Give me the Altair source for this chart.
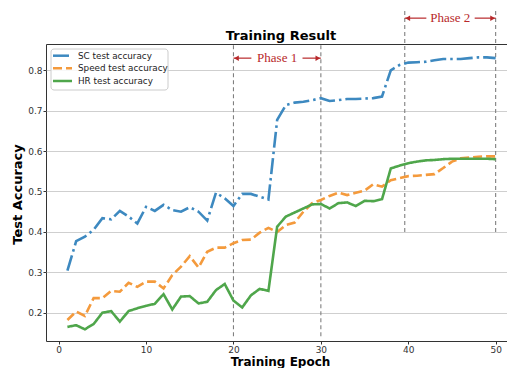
import altair as alt
import pandas as pd

epochs = list(range(1, 51))
sc_acc = [0.304, 0.377, 0.388, 0.405, 0.434, 0.431, 0.452, 0.438, 0.421, 0.462,
          0.452, 0.467, 0.454, 0.450, 0.461, 0.450, 0.428, 0.497, 0.483, 0.464,
          0.494, 0.494, 0.487, 0.480, 0.677, 0.714, 0.720, 0.722, 0.726, 0.731,
          0.724, 0.726, 0.729, 0.729, 0.730, 0.731, 0.735, 0.800, 0.813, 0.819,
          0.820, 0.821, 0.825, 0.828, 0.828, 0.828, 0.830, 0.832, 0.832, 0.830]
speed_acc = [0.182, 0.203, 0.192, 0.236, 0.236, 0.254, 0.252, 0.274, 0.264, 0.277,
             0.277, 0.260, 0.293, 0.314, 0.340, 0.312, 0.351, 0.361, 0.361, 0.372,
             0.380, 0.381, 0.398, 0.410, 0.400, 0.417, 0.423, 0.450, 0.471, 0.479,
             0.489, 0.497, 0.491, 0.497, 0.502, 0.518, 0.512, 0.528, 0.533, 0.538,
             0.539, 0.541, 0.543, 0.558, 0.574, 0.582, 0.584, 0.586, 0.587, 0.587]
hr_acc = [0.165, 0.169, 0.159, 0.172, 0.200, 0.204, 0.178, 0.204, 0.211, 0.217,
          0.222, 0.246, 0.208, 0.240, 0.241, 0.223, 0.227, 0.256, 0.271, 0.230,
          0.213, 0.243, 0.259, 0.254, 0.413, 0.438, 0.448, 0.458, 0.468, 0.469,
          0.458, 0.471, 0.473, 0.464, 0.477, 0.476, 0.481, 0.557, 0.564, 0.570,
          0.574, 0.577, 0.578, 0.580, 0.581, 0.581, 0.581, 0.581, 0.581, 0.580]

series_names = ["SC test accuracy", "Speed test accuracy", "HR test accuracy"]
series_colors = ["#3d89c0", "#f49a3c", "#4fa64b"]
series_dashes = [[16, 4, 2.5, 4], [9, 4], [1, 0]]

x_ticks = [0, 10, 20, 30, 40, 50]
y_ticks = [0.2, 0.3, 0.4, 0.5, 0.6, 0.7, 0.8]

# phase annotations
phase_labels = ["Phase 1", "Phase 2"]
phase_start = [20, 39.6]
phase_end = [30, 50]
phase_line_lo = [0.142, 0.40]
phase_line_hi = [0.865, 0.962]
phase_text_y = [0.830, 0.929]
phase_text_gap = [(22.05, 27.9), (42.07, 47.6)]

RED = "#b8282a"

rows = []
for name, vals in zip(series_names, [sc_acc, speed_acc, hr_acc]):
    for e, v in zip(epochs, vals):
        rows.append({"epoch": e, "acc": v, "series": name})
df = pd.DataFrame(rows)

xscale = alt.Scale(domain=[-1.45, 52.1], nice=False, zero=False)
yscale = alt.Scale(domain=[0.13, 0.865], nice=False, zero=False)
cscale = alt.Scale(domain=series_names, range=series_colors)
dscale = alt.Scale(domain=series_names, range=series_dashes)

lines = alt.Chart(df).mark_line(strokeWidth=2.6).encode(
    x=alt.X("epoch:Q", scale=xscale,
            axis=alt.Axis(title="Training Epoch", values=x_ticks, grid=False,
                          titleBaseline="alphabetic", titleY=24.5, titleFontSize=12)),
    y=alt.Y("acc:Q", scale=yscale,
            axis=alt.Axis(title="Test Accuracy", values=y_ticks, format=".1f",
                          grid=True, titleX=-22, titleY=150)),
    color=alt.Color("series:N", scale=cscale, legend=None),
    strokeDash=alt.StrokeDash("series:N", scale=dscale, legend=None),
    order=alt.Order("epoch:Q"),
)

vdf = pd.DataFrame({
    "x": phase_start + phase_end,
    "lo": phase_line_lo + phase_line_lo,
    "hi": phase_line_hi + phase_line_hi,
})
vlines = alt.Chart(vdf).mark_rule(color="#808080", strokeWidth=1.1, strokeDash=[4, 3]).encode(
    x=alt.X("x:Q", scale=xscale),
    y=alt.Y("lo:Q", scale=yscale),
    y2="hi:Q",
)

seg_rows = []
for i in range(2):
    seg_rows.append({"x": phase_start[i], "x2": phase_text_gap[i][0], "y": phase_text_y[i]})
    seg_rows.append({"x": phase_text_gap[i][1], "x2": phase_end[i], "y": phase_text_y[i]})
segs = alt.Chart(pd.DataFrame(seg_rows)).mark_rule(color=RED, strokeWidth=1.2).encode(
    x=alt.X("x:Q", scale=xscale), x2="x2:Q", y=alt.Y("y:Q", scale=yscale))

lh = alt.Chart(pd.DataFrame({"x": phase_start, "y": phase_text_y})).mark_point(
    shape="triangle-left", filled=True, color=RED, size=30, opacity=1, xOffset=3).encode(
    x=alt.X("x:Q", scale=xscale), y=alt.Y("y:Q", scale=yscale))
rh = alt.Chart(pd.DataFrame({"x": phase_end, "y": phase_text_y})).mark_point(
    shape="triangle-right", filled=True, color=RED, size=30, opacity=1, xOffset=-3).encode(
    x=alt.X("x:Q", scale=xscale), y=alt.Y("y:Q", scale=yscale))

tdf = pd.DataFrame({
    "x": [(a + b) / 2 for a, b in zip(phase_start, phase_end)],
    "y": phase_text_y,
    "label": phase_labels,
})
texts = alt.Chart(tdf).mark_text(font="Liberation Serif", fontSize=13, color=RED,
                                 baseline="middle", align="center").encode(
    x=alt.X("x:Q", scale=xscale), y=alt.Y("y:Q", scale=yscale), text="label:N")

# chart title as a text mark (pixel position above the plot area)
title = alt.Chart(pd.DataFrame({"t": ["Training Result"]})).mark_text(
    font="DejaVu Sans", fontSize=13, fontWeight="bold", color="#000",
    align="center", baseline="alphabetic").encode(
    x=alt.value(235), y=alt.value(-4.5), text="t:N")

# legend drawn by hand (positions in pixels inside the plot area)
leg_box = alt.Chart(pd.DataFrame({"a": [0]})).mark_rect(
    fill="white", fillOpacity=0.85, stroke="#cccccc", strokeWidth=1, cornerRadius=3).encode(
    x=alt.value(5), x2=alt.value(122), y=alt.value(5), y2=alt.value(46))
ldf = pd.DataFrame({
    "series": series_names,
    "ly": [11.7, 24.3, 37.0],
    "lx": [7] * 3, "lx2": [26] * 3, "tx": [32] * 3,
})
leg_lines = alt.Chart(ldf).mark_rule(strokeWidth=2.5).encode(
    x=alt.X("lx:Q", scale=None), x2="lx2:Q", y=alt.Y("ly:Q", scale=None),
    color=alt.Color("series:N", scale=cscale, legend=None),
    strokeDash=alt.StrokeDash("series:N", scale=dscale, legend=None))
leg_text = alt.Chart(ldf).mark_text(font="DejaVu Sans", fontSize=8.8, color="#222",
                                    align="left", baseline="middle").encode(
    x=alt.X("tx:Q", scale=None), y=alt.Y("ly:Q", scale=None), text="series:N")

chart = alt.layer(vlines, lines, segs, lh, rh, texts, title, leg_box, leg_lines, leg_text).properties(
    width=468, height=297,
    padding={"left": 38, "top": 36, "right": -7, "bottom": 27},
    autosize=alt.AutoSizeParams(type="none"),
).configure_view(stroke="#333", strokeWidth=1).configure_axis(
    labelFont="DejaVu Sans", labelFontSize=9, labelColor="#333",
    titleFont="DejaVu Sans", titleFontSize=13, titleFontWeight="bold", titleColor="#000",
    domain=False, tickColor="#333", tickSize=3, labelPadding=1,
    gridColor="#cfcfcf", gridWidth=1,
)

chart.save("out.html", embed_options={"renderer": "svg", "actions": False})
